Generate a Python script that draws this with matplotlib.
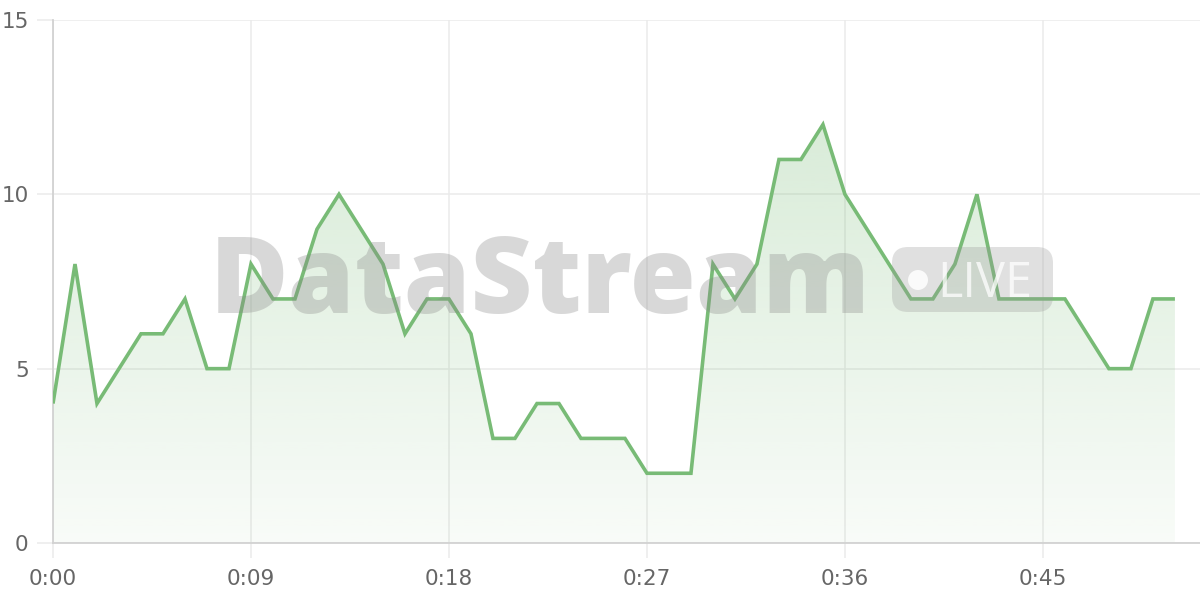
import numpy as np
import matplotlib
matplotlib.use("Agg")
import matplotlib.pyplot as plt
from matplotlib.patches import FancyBboxPatch, Circle, Polygon
from matplotlib.transforms import IdentityTransform

# events per second, one value per second from 0:00
values = [4, 8, 4, 5, 6, 6, 7, 5, 5, 8, 7, 7, 9, 10, 9, 8, 6, 7, 7, 6,
          3, 3, 4, 4, 3, 3, 3, 2, 2, 2, 8, 7, 8, 11, 11, 12, 10, 9, 8, 7,
          7, 8, 10, 7, 7, 7, 7, 6, 5, 5, 7, 7]
x_ticks = [0, 9, 18, 27, 36, 45]
y_ticks = [0, 5, 10, 15]

LINE = "#78bb76"
GRID = "#ebebeb"
TEXT = "#666666"

secs = np.arange(len(values))

fig = plt.figure(figsize=(12, 6), dpi=100)
ax = fig.add_axes([53 / 1200, 57 / 600, 1147 / 1200, 523 / 600])
ax.set_xlim(0, 52.14)
ax.set_ylim(0, 15)

# gradient fill under the line
verts = [(0, 0)] + list(zip(secs, values)) + [(secs[-1], 0)]
clip = Polygon(verts, closed=True, facecolor="none", edgecolor="none")
ax.add_patch(clip)
alpha = np.linspace(0.05, 0.34, 256)[:, None]
grad = np.zeros((256, 1, 4))
grad[..., :3] = matplotlib.colors.to_rgb(LINE)
grad[..., 3] = alpha
im = ax.imshow(grad, extent=[0, secs[-1], 0, 15], origin="lower",
               aspect="auto", zorder=2, interpolation="bilinear")
im.set_clip_path(clip)

ax.plot(secs, values, color=LINE, lw=2.6, zorder=5, solid_joinstyle="miter",
        solid_capstyle="butt")

# axes look
for s in ["top", "right"]:
    ax.spines[s].set_visible(False)
for s in ["left", "bottom"]:
    ax.spines[s].set_color("#d2d2d2")
    ax.spines[s].set_linewidth(1.3)
ax.set_xticks(x_ticks)
ax.set_xticklabels([f"{t // 60}:{t % 60:02d}" for t in x_ticks])
ax.set_yticks(y_ticks)
ax.grid(True, color=GRID, lw=1.1, zorder=0)
ax.set_axisbelow(True)
ax.tick_params(axis="both", color=GRID, width=1.1, labelcolor=TEXT,
               labelsize=15.5)
ax.tick_params(axis="y", length=11.5, pad=6)
ax.tick_params(axis="x", length=11, pad=7.5)
for lab in ax.get_xticklabels() + ax.get_yticklabels():
    lab.set_family("DejaVu Sans")

# watermark
wm = fig.text(210 / 1200, 1 - 313 / 600, "DataStream", family="Open Sans",
              weight=800, size=85, color="#888888", alpha=0.32,
              ha="left", va="baseline", zorder=3)
fig.canvas.draw()
w = wm.get_window_extent().width
wm.set_size(85 * 660 / w)

badge = FancyBboxPatch((892, 288), 161, 65, boxstyle="round,pad=0,rounding_size=16",
                       transform=IdentityTransform(), facecolor="#999999",
                       edgecolor="none", alpha=0.3, zorder=3)
fig.patches.append(badge)
dot = Circle((918, 320), 10, transform=IdentityTransform(), facecolor="white",
             edgecolor="none", alpha=0.85, zorder=4)
fig.patches.append(dot)
fig.text(937 / 1200, 1 - 297 / 600, "LIVE", family="Open Sans", size=35,
         color="white", alpha=0.75, ha="left", va="baseline", zorder=4)

fig.savefig("out.png", dpi=100)
